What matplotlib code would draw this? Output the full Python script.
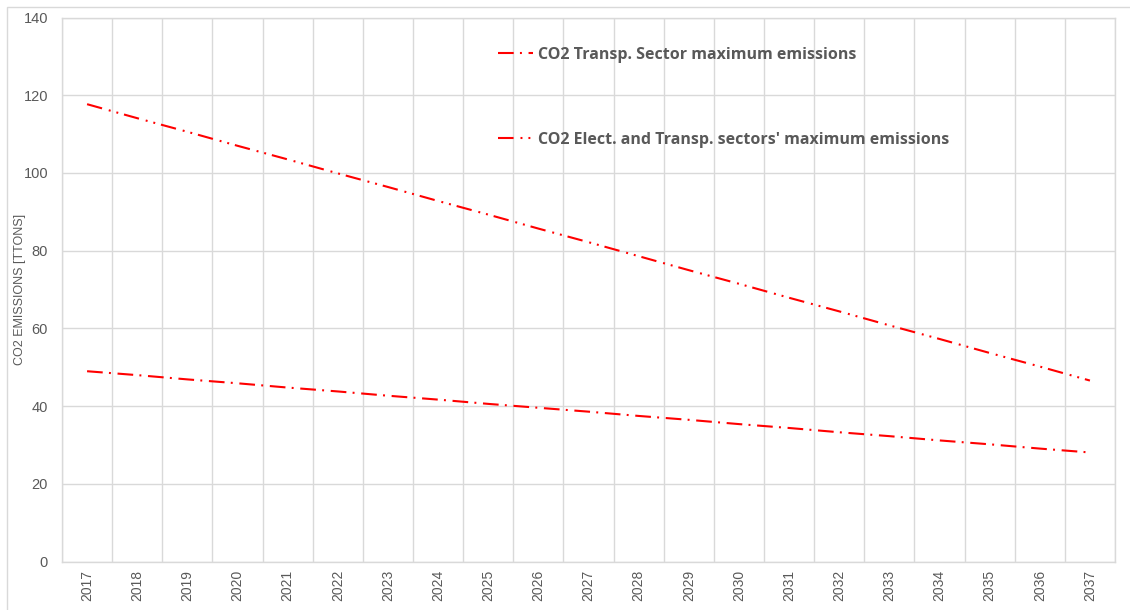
import matplotlib
matplotlib.use('Agg')
from matplotlib import pyplot as plt
from matplotlib.patches import Rectangle

# Data
years = [str(y) for y in range(2017, 2038)]
elect_transp = [117.7, 114.1, 110.6, 107.0, 103.5, 99.9, 96.4, 92.8, 89.3, 85.7, 82.2,
                78.6, 75.0, 71.5, 67.9, 64.4, 60.8, 57.3, 53.7, 50.2, 46.6]
transp_only = [49.0, 48.0, 46.9, 45.9, 44.8, 43.8, 42.7, 41.7, 40.6, 39.6, 38.6,
               37.5, 36.5, 35.4, 34.4, 33.3, 32.3, 31.2, 30.2, 29.1, 28.1]
y_ticks = [0, 20, 40, 60, 80, 100, 120, 140]

label_transp = 'CO2 Transp. Sector maximum emissions'
label_both = "CO2 Elect. and Transp. sectors' maximum emissions"

# Plot aspects
txt_color = '#595959'
grid_color = '#d9d9d9'
line_color = '#ff0000'
plt.rcParams['lines.scale_dashes'] = False
plt.rcParams['font.family'] = ['Liberation Sans', 'DejaVu Sans']

fig = plt.figure(figsize=(11.3, 6.1), dpi=100)
ax = fig.add_axes([62 / 1130, 1 - 561.7 / 610, (1115 - 62) / 1130, (561.7 - 17.5) / 610])

# outer chart border
fig.patches.append(Rectangle((7 / 1130, -0.05), 1.1, 1 - 7 / 610 + 0.05, transform=fig.transFigure,
                             fill=False, edgecolor=grid_color, linewidth=1.0))

x = list(range(len(years)))
ax.plot(x, transp_only, color=line_color, linewidth=1.5,
        dashes=(11.3, 4.5, 1.4, 4.8), label=label_transp, zorder=3)
ax.plot(x, elect_transp, color=line_color, linewidth=1.5,
        dashes=(11.2, 5.0, 1.4, 4.3, 1.4, 4.3), label=label_both, zorder=3)

ax.set_xlim(-0.5, len(years) - 0.5)
ax.set_ylim(0, 140)
ax.set_xticks(x)
ax.set_xticklabels(years, rotation=90, fontsize=10, color=txt_color)
ax.set_yticks(y_ticks)
ax.set_yticklabels([str(v) for v in y_ticks], fontsize=10.5, color=txt_color)
ax.tick_params(axis='both', length=0)
ax.tick_params(axis='x', pad=6)
ax.tick_params(axis='y', pad=10)

# grid: horizontal at ticks, vertical between categories
for v in y_ticks:
    ax.axhline(v, color=grid_color, linewidth=1.0, zorder=1)
for b in range(len(years) + 1):
    ax.axvline(b - 0.5, color=grid_color, linewidth=1.0, zorder=1)
for s in ax.spines.values():
    s.set_color(grid_color)
    s.set_linewidth(1.0)

ax.set_ylabel('CO2 EMISSIONS [TTONS]', fontsize=9, color=txt_color)
ax.yaxis.set_label_coords((26 - 62) / 1053, 0.5)

leg = ax.legend(loc='upper left', bbox_to_anchor=(0.40, 0.973), frameon=False,
                prop={'family': 'Open Sans', 'weight': 'bold', 'size': 11.5},
                labelspacing=4.35, handlelength=2.2, handletextpad=0.35)
for t in leg.get_texts():
    t.set_color(txt_color)

fig.savefig('out.png', dpi=100)
